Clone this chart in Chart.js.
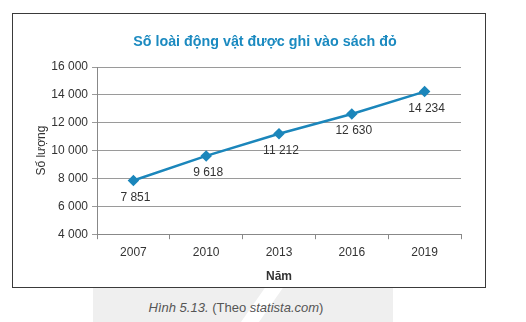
<!DOCTYPE html>
<html>
<head>
<meta charset="utf-8">
<script src="https://cdn.jsdelivr.net/npm/chart.js@4"></script>
<style>
  body { margin: 0; background: #fff; width: 526px; height: 322px; position: relative; overflow: hidden; font-family: "Liberation Sans", Arial, sans-serif; }
  .filigrane { position: absolute; left: 93px; top: 277px; width: 300px; height: 45px; background: #efefef; }
  .coupure { position: absolute; left: 255px; top: 272px; width: 18px; height: 60px; background: #fff; transform: skewX(-35deg); }
  .cadre { position: absolute; left: 12px; top: 13px; width: 472px; height: 273px; border: 1px solid #3a3a3a; background: #fff; }
  .titre { position: absolute; left: 0; top: 19px; width: 504px; text-align: center; font-size: 14.3px; font-weight: bold; color: #1b8ac0; }
  .legende { position: absolute; left: 0; width: 472px; top: 300px; text-align: center; font-size: 13px; color: #555; }
</style>
</head>
<body>
<div class="filigrane"></div>
<div class="coupure"></div>
<div class="cadre">
  <canvas id="graphique" width="472" height="273"></canvas>
  <div class="titre">Số loài động vật được ghi vào sách đỏ</div>
</div>
<div class="legende"><i>Hình 5.13.</i> (Theo <i>statista.com</i>)</div>

<script>
// Données
const annees = ['2007', '2010', '2013', '2016', '2019'];
const nbEspeces = [7851, 9618, 11212, 12630, 14234];
const graduationsY = [4000, 6000, 8000, 10000, 12000, 14000, 16000];

const BLEU = '#1b86bb';
const TEXTE = '#333333';
const POLICE = '"Liberation Sans", Arial, sans-serif';

// Séparateur de milliers avec espace (ex. 14 234)
const formaterNombre = (v) => String(v).replace(/\B(?=(\d{3})+(?!\d))/g, ' ');

// Étiquettes de valeur sous chaque point
const etiquettesValeurs = {
    id: 'etiquettesValeurs',
    afterDatasetsDraw(chart) {
        const ctx = chart.ctx;
        const meta = chart.getDatasetMeta(0);
        ctx.save();
        ctx.font = '12px ' + POLICE;
        ctx.fillStyle = TEXTE;
        ctx.textAlign = 'center';
        ctx.textBaseline = 'middle';
        meta.data.forEach((pt, i) => {
            ctx.fillText(formaterNombre(nbEspeces[i]), pt.x + 2, pt.y + 17);
        });
        ctx.restore();
    }
};

new Chart(document.getElementById('graphique'), {
    type: 'line',
    data: {
        labels: annees,
        datasets: [{
            data: nbEspeces,
            borderColor: BLEU,
            backgroundColor: BLEU,
            borderWidth: 2.5,
            pointStyle: 'rectRot',
            pointRadius: 4,
            pointHoverRadius: 4,
            tension: 0
        }]
    },
    options: {
        responsive: false,
        animation: false,
        layout: { padding: { left: 14, right: 24, top: 53, bottom: 3 } },
        plugins: {
            legend: { display: false },
            tooltip: { enabled: false },
            title: { display: false }
        },
        scales: {
            x: {
                offset: true,
                grid: { offset: true, drawOnChartArea: false, tickLength: 5, color: '#888' },
                border: { color: '#888' },
                ticks: { color: TEXTE, font: { family: POLICE, size: 12 }, padding: 6 },
                title: {
                    display: true,
                    text: 'Năm',
                    color: TEXTE,
                    font: { family: POLICE, size: 12, weight: 'bold' },
                    padding: { top: 4, bottom: 0 }
                }
            },
            y: {
                min: graduationsY[0],
                max: graduationsY[graduationsY.length - 1],
                afterBuildTicks(scale) {
                    scale.ticks = graduationsY.map(v => ({ value: v }));
                },
                afterFit(scale) { scale.width = 70; },
                grid: { color: '#9a9a9a', tickLength: 5 },
                border: { color: '#888' },
                ticks: {
                    color: TEXTE,
                    font: { family: POLICE, size: 12 },
                    padding: 4,
                    callback: (v) => formaterNombre(v)
                },
                title: {
                    display: true,
                    text: 'Số lượng',
                    color: TEXTE,
                    font: { family: POLICE, size: 12 },
                    padding: { top: 7, bottom: 0 }
                }
            }
        }
    },
    plugins: [etiquettesValeurs]
});
</script>
</body>
</html>
